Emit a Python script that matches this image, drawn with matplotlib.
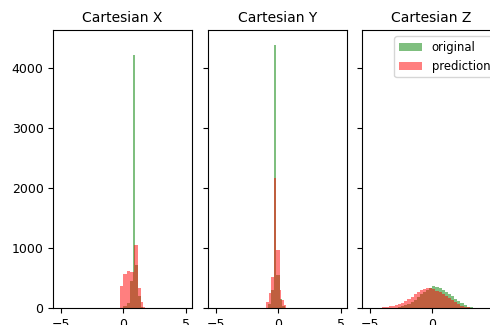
import numpy as np
import matplotlib
matplotlib.use('Agg')
import matplotlib.pyplot as plt

titles = ['Cartesian X', 'Cartesian Y', 'Cartesian Z']
labels = ['original', 'prediction']

# Cartesian X
x_orig_edges = [0.0, 0.3, 0.54, 0.80, 0.92, 1.2, 1.4, 1.6]
x_orig_counts = [30, 80, 450, 4220, 720, 200, 20]
x_pred_edges = [-0.3, 0.0, 0.3, 0.54, 0.83, 1.2, 1.4, 1.58, 1.75]
x_pred_counts = [360, 560, 620, 600, 1050, 330, 100, 20]

# Cartesian Y
y_orig_edges = [-0.8, -0.56, -0.34, -0.16, 0.11, 0.3, 0.5]
y_orig_counts = [60, 300, 4380, 550, 150, 30]
y_pred_edges = [-1.0, -0.76, -0.56, -0.34, -0.16, 0.11, 0.24, 0.43, 0.6]
y_pred_counts = [100, 250, 520, 2170, 960, 300, 140, 50]

# Cartesian Z  (bins of 0.25 from -4.75 to 3.75)
z_orig_counts = [0, 0, 0, 0, 0, 0, 3, 8, 15, 28, 45, 70, 100, 140, 185, 230, 270,
                 305, 340, 370, 350, 325, 300, 270, 235, 195, 155, 115, 80, 45,
                 22, 10, 4, 1]
z_pred_counts = [3, 5, 8, 12, 18, 25, 35, 48, 65, 90, 120, 155, 190, 230, 270,
                 300, 320, 330, 325, 310, 290, 265, 235, 200, 165, 130, 95, 65,
                 40, 22, 10, 5, 2, 1]
z_edges = np.linspace(-4.75, 3.75, len(z_pred_counts) + 1)

panels = [
    (x_orig_edges, x_orig_counts, x_pred_edges, x_pred_counts),
    (y_orig_edges, y_orig_counts, y_pred_edges, y_pred_counts),
    (z_edges, z_orig_counts, z_edges, z_pred_counts),
]

fig = plt.figure(figsize=(4.9, 3.25), dpi=100)
W, H = 490.0, 325.0
lefts = [53.3, 208.3, 362.3]
axes = []
for i, left in enumerate(lefts):
    if i == 0:
        ax = fig.add_axes([left / W, 17 / H, 138.4 / W, 277.6 / H])
    else:
        ax = fig.add_axes([left / W, 17 / H, 138.4 / W, 277.6 / H],
                          sharey=axes[0], sharex=axes[0])
    axes.append(ax)

for i, ax in enumerate(axes):
    oe, oc, pe, pc = panels[i]
    oe = np.asarray(oe, float)
    pe = np.asarray(pe, float)
    ax.hist((oe[:-1] + oe[1:]) / 2, bins=oe, weights=oc, color='g', alpha=0.5,
            label=labels[0])
    ax.hist((pe[:-1] + pe[1:]) / 2, bins=pe, weights=pc, color='r', alpha=0.5,
            label=labels[1])
    ax.set_title(titles[i], fontsize=10)
    ax.set_xticks([-5, 0, 5])
    ax.tick_params(labelsize=9)
    if i > 0:
        ax.tick_params(labelleft=False)

axes[0].set_xlim(-5.62, 5.48)
axes[0].set_ylim(0, 4625)
axes[0].set_yticks([0, 1000, 2000, 3000, 4000])
axes[2].legend(loc='upper right', fontsize=8.4)

fig.savefig('out.png', dpi=100)
